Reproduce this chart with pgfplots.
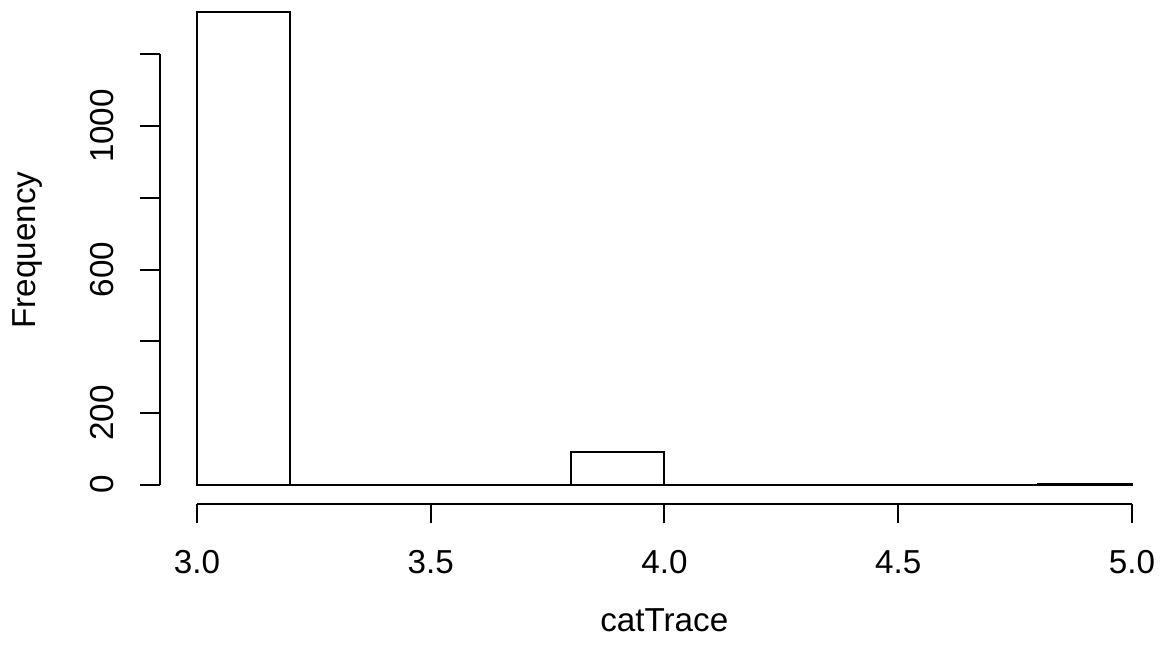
\documentclass[border=0pt]{standalone}
\usepackage{fontspec}
\setmainfont{Liberation Sans}
\usepackage{pgfplots}
\pgfplotsset{compat=1.18}

\begin{document}
\begin{tikzpicture}
\begin{axis}[
  x=233.75pt, y=0.179335pt,
  xmin=2.92, xmax=5.06011, ymin=-54.65, ymax=1351.4,
  axis lines*=left, axis line style={draw=none},
  clip=false,
  tick align=outside, major tick length=9.5pt,
  tick style={black, line width=1pt},
  xtick={3,3.5,4,4.5,5}, xticklabels={3.0,3.5,4.0,4.5,5.0},
  ytick={0,200,400,600,800,1000,1200}, yticklabels={0,200,,600,,1000,},
  tick label style={font=\fontsize{16.6}{20}\selectfont},
  xticklabel style={anchor=base, yshift=-25pt},
  yticklabel style={xshift=-13.6pt, rotate=90, anchor=base},
  label style={font=\fontsize{16.6}{20}\selectfont},
  xlabel={catTrace}, xlabel style={at={(axis description cs:0.5045,-0.2512)}, anchor=base},
  ylabel={Frequency}, ylabel style={at={(axis description cs:-0.1239,0.504)}, anchor=base},
]
% histogram counts, bins of width 0.2 from 3.0 to 5.0
\addplot[ybar interval, draw=black, fill=none, line width=1.05pt, line join=miter] coordinates {
  (3.0,1318) (3.2,0) (3.4,0) (3.6,0) (3.8,90) (4.0,0) (4.2,0) (4.4,0) (4.6,0) (4.8,2) (5.0,2)};
\draw[line width=1pt] (axis cs:3,-54.65) -- (axis cs:5,-54.65);
\draw[line width=1pt] (axis cs:2.92,0) -- (axis cs:2.92,1200);
\end{axis}
\pgfresetboundingbox
\path ([xshift=-79.75pt,yshift=-74.35pt]current axis.south west) rectangle (current axis.north east);
\end{tikzpicture}
\end{document}
